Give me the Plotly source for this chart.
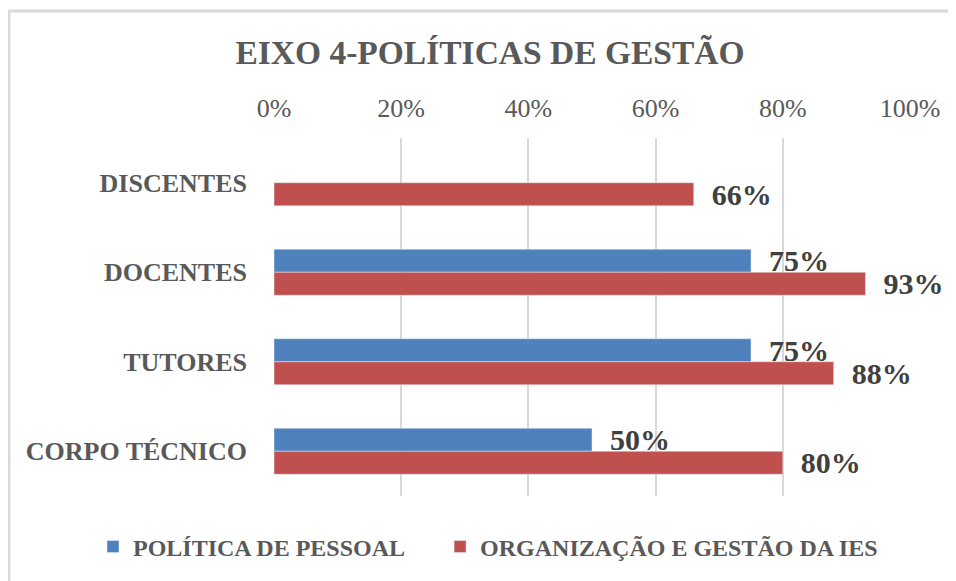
import plotly.graph_objects as go

categories = ["DISCENTES", "DOCENTES", "TUTORES", "CORPO TÉCNICO"]
politica_pessoal = [None, 0.75, 0.75, 0.50]
organizacao_gestao = [0.66, 0.93, 0.88, 0.80]
series_names = ["POLÍTICA DE PESSOAL", "ORGANIZAÇÃO E GESTÃO DA IES"]
tick_values = [0, 0.2, 0.4, 0.6, 0.8, 1.0]
tick_labels = ["0%", "20%", "40%", "60%", "80%", "100%"]

# page is offset by the 8px body margin
O = 8
W, H = 956 - O, 581 - O
ML, MR, MT, MB = 274 - O, 46, 138 - O, 85
PW, PH = W - ML - MR, H - MT - MB

def px_x(x):  # page pixel -> paper
    return (x - O - ML) / PW

def px_y(y):
    return (H - MB - (y - O)) / PH

FONT = "Liberation Serif"
GRAY = "#595959"
PAD = "\u00a0" * 5  # extra spacing between legend entries

fig = go.Figure()
fig.add_trace(go.Bar(
    y=categories, x=politica_pessoal, name=series_names[0] + PAD, orientation="h",
    marker=dict(color="#4F81BD"),
    texttemplate="\u00a0\u00a0%{x:.0%}", textposition="outside",
    textfont=dict(family=FONT, size=30, color="#404040", weight="bold"),
    cliponaxis=False, constraintext="none",
))
fig.add_trace(go.Bar(
    y=categories, x=organizacao_gestao, name=series_names[1], orientation="h",
    marker=dict(color="#C0504D"),
    texttemplate="\u00a0\u00a0%{x:.0%}", textposition="outside",
    textfont=dict(family=FONT, size=30, color="#404040", weight="bold"),
    cliponaxis=False, constraintext="none",
))

fig.update_layout(
    width=W, height=H,
    margin=dict(l=ML, r=MR, t=MT, b=MB, autoexpand=False),
    paper_bgcolor="white", plot_bgcolor="white",
    barmode="group", bargap=0.486, bargroupgap=0,
    title=dict(text="EIXO 4-POLÍTICAS DE GESTÃO", x=(490 - O) / W, xref="container",
               xanchor="center", y=1 - (52 - O) / H, yanchor="middle",
               font=dict(family=FONT, size=33.5, color=GRAY, weight="bold")),
    xaxis=dict(side="top", range=[0, 1], tickvals=tick_values, ticktext=tick_labels,
               showgrid=True, gridcolor="#D9D9D9", gridwidth=1.5, zeroline=False,
               showline=False, ticks="", ticklabelstandoff=15,
               tickfont=dict(family=FONT, size=26, color=GRAY)),
    yaxis=dict(autorange="reversed", showgrid=False, showline=False, zeroline=False,
               ticks="", ticklabelstandoff=26,
               tickfont=dict(family=FONT, size=26, color=GRAY, weight="bold")),
    legend=dict(orientation="h", x=px_x(93), xanchor="left", y=px_y(547), yanchor="middle",
                font=dict(family=FONT, size=24, color=GRAY, weight="bold"),
                traceorder="normal", itemwidth=30),
    shapes=[dict(type="rect", xref="paper", yref="paper",
                 x0=px_x(9), x1=px_x(980), y0=px_y(11), y1=px_y(600),
                 line=dict(color="#D9D9D9", width=3), fillcolor="rgba(0,0,0,0)", layer="below")],
)

fig.write_html("out.html")
